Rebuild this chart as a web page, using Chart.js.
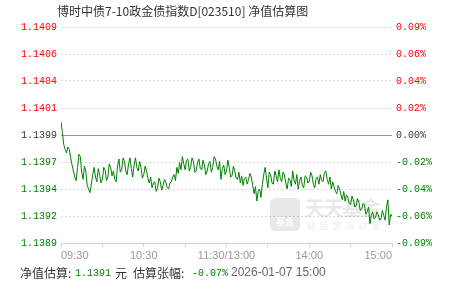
<!DOCTYPE html>
<html><head><meta charset="utf-8">
<script src="https://cdn.jsdelivr.net/npm/chart.js@4.4.1/dist/chart.umd.min.js"></script>
<style>html,body{margin:0;padding:0;background:#fff;}#wrap{width:451px;height:281px;position:relative}</style>
</head><body><div id="wrap"><canvas id="c" width="451" height="281"></canvas></div>
<script>
const chartTitle = '博时中债7-10政金债指数D[023510] 净值估算图';
const timeTicks = [0, 30, 60, 90, 120, 150, 180, 210, 240]; // minutes since 09:30 (trading time)
const timeLabels = ['09:30', '', '10:30', '', '11:30/13:00', '', '14:00', '', '15:00'];
const sampleStep = 1; // minutes between samples
const pctChange = [
  0.011, 0.002, -0.008, -0.012, -0.015, -0.010, -0.012, -0.019, -0.025, -0.030,
  -0.035, -0.038, -0.027, -0.016, -0.018, -0.031, -0.037, -0.026, -0.030, -0.042,
  -0.045, -0.048, -0.041, -0.033, -0.027, -0.035, -0.039, -0.028, -0.033, -0.040,
  -0.037, -0.027, -0.029, -0.038, -0.035, -0.024, -0.027, -0.034, -0.030, -0.037,
  -0.039, -0.026, -0.020, -0.031, -0.029, -0.019, -0.022, -0.030, -0.033, -0.024,
  -0.019, -0.028, -0.035, -0.025, -0.019, -0.027, -0.030, -0.022, -0.027, -0.036,
  -0.033, -0.026, -0.030, -0.036, -0.040, -0.035, -0.044, -0.040, -0.039, -0.047,
  -0.044, -0.036, -0.039, -0.046, -0.042, -0.037, -0.039, -0.044, -0.045, -0.040,
  -0.039, -0.035, -0.033, -0.038, -0.027, -0.032, -0.023, -0.029, -0.018, -0.024,
  -0.029, -0.021, -0.020, -0.030, -0.027, -0.019, -0.022, -0.031, -0.030, -0.023,
  -0.020, -0.028, -0.029, -0.021, -0.025, -0.033, -0.030, -0.024, -0.022, -0.031,
  -0.027, -0.018, -0.020, -0.026, -0.029, -0.022, -0.037, -0.028, -0.025, -0.033,
  -0.030, -0.021, -0.027, -0.035, -0.034, -0.026, -0.030, -0.036, -0.037, -0.031,
  -0.040, -0.034, -0.042, -0.036, -0.035, -0.041, -0.037, -0.032, -0.035, -0.042,
  -0.049, -0.043, -0.055, -0.047, -0.045, -0.052, -0.041, -0.033, -0.027, -0.036,
  -0.044, -0.031, -0.033, -0.040, -0.041, -0.030, -0.034, -0.039, -0.029, -0.036,
  -0.039, -0.031, -0.033, -0.040, -0.045, -0.036, -0.037, -0.043, -0.030, -0.038,
  -0.041, -0.033, -0.045, -0.038, -0.035, -0.042, -0.044, -0.034, -0.035, -0.040,
  -0.039, -0.031, -0.034, -0.041, -0.044, -0.036, -0.035, -0.041, -0.033, -0.038,
  -0.039, -0.031, -0.030, -0.037, -0.041, -0.035, -0.045, -0.039, -0.043, -0.047,
  -0.049, -0.042, -0.045, -0.050, -0.054, -0.047, -0.055, -0.050, -0.052, -0.057,
  -0.058, -0.051, -0.054, -0.060, -0.059, -0.053, -0.056, -0.063, -0.062, -0.057,
  -0.058, -0.066, -0.064, -0.060, -0.074, -0.067, -0.064, -0.070, -0.069, -0.064,
  -0.066, -0.071, -0.070, -0.063, -0.067, -0.071, -0.060, -0.054, -0.075, -0.066,
  -0.068
];
const pctTicks = [-0.09, -0.0675, -0.045, -0.0225, 0, 0.0225, 0.045, 0.0675, 0.09];
const navLabels = ['1.1389', '1.1392', '1.1394', '1.1397', '1.1399', '1.1401', '1.1404', '1.1406', '1.1409'];
const pctLabels = ['-0.09%', '-0.06%', '-0.04%', '-0.02%', '0.00%', '0.02%', '0.04%', '0.06%', '0.09%'];
const navEstimate = '1.1391';
const pctEstimate = '-0.07%';
const stamp = '2026-01-07 15:00';

const RED = '#ff0000', GREEN = '#008000', DARK = '#333333';
const tickColor = i => i < 4 ? GREEN : (i === 4 ? DARK : RED);
const MONO = '"Liberation Mono", "DejaVu Sans Mono", monospace';
const CJK = '"Noto Sans CJK SC", sans-serif';
const SANS = '"Liberation Sans", Arial, sans-serif';

const textPlugin = {
  id: 'texts',
  beforeDatasetsDraw(chart) {
    const ctx = chart.ctx;
    ctx.save();
    // watermark
    ctx.fillStyle = 'rgba(0,0,0,0.09)';
    const rx = 270, ry = 198, rw = 30, rh = 33, r = 6;
    ctx.beginPath();
    ctx.moveTo(rx + r, ry); ctx.lineTo(rx + rw - r, ry); ctx.quadraticCurveTo(rx + rw, ry, rx + rw, ry + r);
    ctx.lineTo(rx + rw, ry + rh - r); ctx.quadraticCurveTo(rx + rw, ry + rh, rx + rw - r, ry + rh);
    ctx.lineTo(rx + r, ry + rh); ctx.quadraticCurveTo(rx, ry + rh, rx, ry + rh - r);
    ctx.lineTo(rx, ry + r); ctx.quadraticCurveTo(rx, ry, rx + r, ry);
    ctx.fill();
    ctx.fillStyle = 'rgba(255,255,255,0.9)';
    ctx.font = 'bold 9px ' + CJK;
    ctx.textAlign = 'center'; ctx.textBaseline = 'middle';
    ctx.fillText('基金', rx + rw / 2, ry + 24);
    ctx.fillStyle = 'rgba(0,0,0,0.09)';
    ctx.font = 'bold 20px ' + CJK;
    const big = '天天基金';
    for (let i = 0; i < big.length; i++) ctx.fillText(big[i], 315 + i * 18.5, 208);
    ctx.font = '9px ' + CJK;
    const sub = '链接您与财富';
    for (let i = 0; i < sub.length; i++) ctx.fillText(sub[i], 311 + i * 13, 226);
    ctx.restore();
  },
  afterDraw(chart) {
    const ctx = chart.ctx;
    const xs = chart.scales.x;
    ctx.save();
    ctx.textBaseline = 'middle';
    // title
    ctx.fillStyle = DARK;
    ctx.font = '12px ' + CJK;
    ctx.textAlign = 'left';
    ctx.fillText(chartTitle, 57, 11);
    // time labels
    ctx.font = '11px ' + SANS;
    ctx.fillStyle = '#999999';
    timeTicks.forEach((v, i) => {
      if (!timeLabels[i]) return;
      ctx.textAlign = i === 0 ? 'left' : (i === timeTicks.length - 1 ? 'right' : 'center');
      ctx.fillText(timeLabels[i], xs.getPixelForValue(v), 256);
    });
    // bottom summary
    ctx.textAlign = 'left';
    const y = 273;
    ctx.font = '12px ' + CJK; ctx.fillStyle = DARK;
    ctx.fillText('净值估算:', 20, y);
    ctx.font = '10px ' + MONO; ctx.fillStyle = GREEN;
    ctx.fillText(navEstimate, 75, y);
    ctx.font = '12px ' + CJK; ctx.fillStyle = DARK;
    ctx.fillText('元', 115, y);
    ctx.fillText('估算张幅:', 133, y);
    ctx.font = '10px ' + MONO; ctx.fillStyle = GREEN;
    ctx.fillText(pctEstimate, 192, y);
    ctx.font = '12px ' + SANS; ctx.fillStyle = '#666666';
    ctx.fillText(stamp, 231, y);
    ctx.restore();
  }
};

new Chart(document.getElementById('c'), {
  type: 'line',
  data: {
    datasets: [{
      data: pctChange.map((v, i) => ({ x: i * sampleStep, y: v })),
      borderColor: GREEN,
      borderWidth: 1,
      pointRadius: 0,
      tension: 0,
      fill: false
    }]
  },
  options: {
    responsive: false,
    animation: false,
    events: [],
    layout: { padding: { top: 27, left: 0, right: 0, bottom: 0 } },
    plugins: { legend: { display: false }, tooltip: { enabled: false }, title: { display: false } },
    scales: {
      x: {
        type: 'linear', min: 0, max: 240,
        afterBuildTicks: s => { s.ticks = timeTicks.map(v => ({ value: v })); },
        afterFit: s => { s.height = 38; },
        ticks: { display: false },
        grid: { drawOnChartArea: false, drawTicks: true, tickLength: 4, tickColor: '#c8d2de', color: '#c8d2de' },
        border: { display: true, color: '#c8d2de' }
      },
      y: {
        position: 'left', min: -0.09, max: 0.09,
        afterBuildTicks: s => { s.ticks = pctTicks.map(v => ({ value: v })); },
        afterFit: s => { s.width = 61; },
        ticks: {
          callback: (v, i) => navLabels[i],
          color: c => tickColor(c.index),
          font: { family: MONO, size: 10 },
          padding: 4
        },
        grid: { color: c => (c.index === 0 || c.index === 4) ? 'rgba(0,0,0,0)' : '#d8d8d8', drawTicks: false, lineWidth: 1 },
        border: { display: false, dash: [2, 2] }
      },
      y2: {
        position: 'right', min: -0.09, max: 0.09,
        afterBuildTicks: s => { s.ticks = pctTicks.map(v => ({ value: v })); },
        afterFit: s => { s.width = 59; },
        ticks: {
          callback: (v, i) => pctLabels[i],
          color: c => tickColor(c.index),
          font: { family: MONO, size: 10 },
          padding: 4
        },
        grid: { color: c => c.index === 4 ? '#999999' : 'rgba(0,0,0,0)', drawTicks: false, lineWidth: 1 },
        border: { display: false }
      }
    }
  },
  plugins: [textPlugin]
});
</script></body></html>
